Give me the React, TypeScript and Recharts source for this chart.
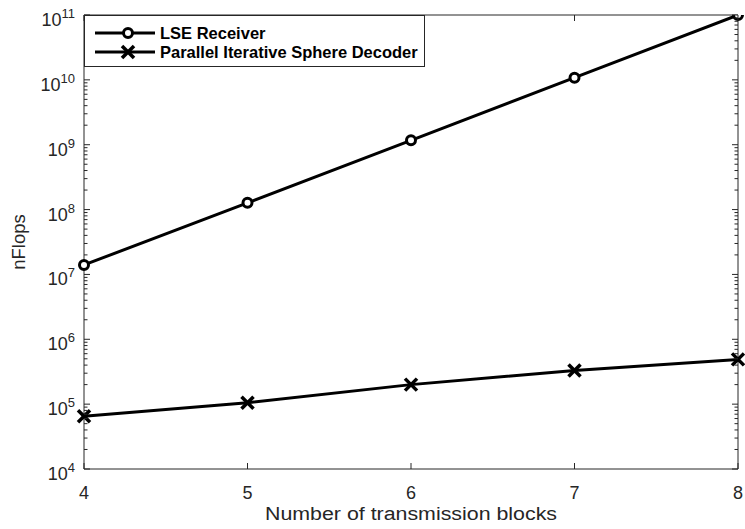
import React from 'react';
import { LineChart, Line, XAxis, YAxis } from 'recharts';

const blocks = [4, 5, 6, 7, 8];
const lseFlops = [1.4e7, 1.27e8, 1.17e9, 1.08e10, 1.0e11];
const pisdFlops = [6.5e4, 1.05e5, 2.0e5, 3.3e5, 4.9e5];
const xTicks = [4, 5, 6, 7, 8];
const yMajorExponents = [4, 5, 6, 7, 8, 9, 10, 11];
const seriesNames = ['LSE Receiver', 'Parallel Iterative Sphere Decoder'];
const xLabel = 'Number of transmission blocks';
const yLabel = 'nFlops';

const data = blocks.map((b, i) => ({ blocks: b, lse: lseFlops[i], pisd: pisdFlops[i] }));
const yMajor = yMajorExponents.map((e) => Math.pow(10, e));
const yMinor: number[] = [];
for (let i = 0; i < yMajorExponents.length - 1; i++) {
  for (let m = 2; m <= 9; m++) yMinor.push(m * Math.pow(10, yMajorExponents[i]));
}
const yTicks = [...yMajor, ...yMinor].sort((a, b) => a - b);

const AX = '#262626';
const FONT = "'Liberation Sans', Arial, Helvetica, sans-serif";

const isMajor = (v: number) => {
  const e = Math.round(Math.log10(v));
  return Math.abs(v - Math.pow(10, e)) < 1e-6 * v;
};

const LeftTick = (props: any) => {
  const { x, y, payload } = props;
  const v = payload.value;
  const maj = isMajor(v);
  const e = Math.round(Math.log10(v));
  return (
    <g>
      <line x1={x} x2={x + (maj ? 6 : 3.5)} y1={y} y2={y} stroke={AX} strokeWidth={1} />
      {maj && (
        <text x={x - 9} y={y + 11} textAnchor="end" fill={AX} fontFamily={FONT} fontSize={18}>
          10<tspan dy={-8} fontSize={13}>{e}</tspan>
        </text>
      )}
    </g>
  );
};

const RightTick = (props: any) => {
  const { x, y, payload } = props;
  const maj = isMajor(payload.value);
  return <line x1={x} x2={x - (maj ? 6 : 3.5)} y1={y} y2={y} stroke={AX} strokeWidth={1} />;
};

const BottomTick = (props: any) => {
  const { x, y, payload } = props;
  return (
    <g>
      <line x1={x} x2={x} y1={y} y2={y - 6} stroke={AX} strokeWidth={1} />
      <text x={x} y={y + 30} textAnchor="middle" fill={AX} fontFamily={FONT} fontSize={18}>
        {payload.value}
      </text>
    </g>
  );
};

const TopTick = (props: any) => {
  const { x, y } = props;
  return <line x1={x} x2={x} y1={y} y2={y + 6} stroke={AX} strokeWidth={1} />;
};

const CrossDot = (props: any) => {
  const { cx, cy } = props;
  if (cx == null || cy == null) return null;
  const s = 6;
  return (
    <g>
      <line x1={cx - s} y1={cy - s} x2={cx + s} y2={cy + s} stroke="#000" strokeWidth={3.5} />
      <line x1={cx - s} y1={cy + s} x2={cx + s} y2={cy - s} stroke="#000" strokeWidth={3.5} />
    </g>
  );
};

const Legend = () => (
  <svg width={342} height={53} style={{ position: 'absolute', left: 84, top: 15 }}>
    <rect x={0.5} y={0.5} width={340} height={51} fill="#fff" stroke={AX} strokeWidth={1} />
    <line x1={11} x2={71} y1={18} y2={18} stroke="#000" strokeWidth={3} />
    <circle cx={44} cy={18} r={4.5} fill="#fff" stroke="#000" strokeWidth={3} />
    <text x={76} y={23.5} fontFamily={FONT} fontWeight="bold" fontSize={16.5} fill="#000">
      {seriesNames[0]}
    </text>
    <line x1={11} x2={71} y1={37} y2={37} stroke="#000" strokeWidth={3} />
    <CrossDot cx={44} cy={37} />
    <text x={76} y={42.5} fontFamily={FONT} fontWeight="bold" fontSize={16.5} fill="#000">
      {seriesNames[1]}
    </text>
  </svg>
);

export default function App() {
  return (
    <div style={{ position: 'absolute', left: 0, top: 0, width: 745, height: 529, background: '#fff' }}>
      <LineChart width={745} height={529} data={data} margin={{ top: 10, right: 0, bottom: 20, left: 24 }}>
        <XAxis
          xAxisId="bottom"
          dataKey="blocks"
          type="number"
          domain={[4, 8]}
          ticks={xTicks}
          interval={0}
          height={40}
          tickSize={0}
          tickMargin={0}
          tickLine={false}
          axisLine={{ stroke: AX, strokeWidth: 1 }}
          tick={<BottomTick />}
          label={{
            content: (p: any) => {
              const vb = p.viewBox;
              return (
                <text
                  x={vb.x + vb.width / 2}
                  y={vb.y + 51}
                  textAnchor="middle"
                  fill={AX}
                  fontFamily={FONT}
                  fontSize={18}
                  textLength={292}
                  lengthAdjust="spacingAndGlyphs"
                >
                  {xLabel}
                </text>
              );
            },
          }}
        />
        <XAxis
          xAxisId="top"
          orientation="top"
          dataKey="blocks"
          type="number"
          domain={[4, 8]}
          ticks={xTicks}
          interval={0}
          height={5}
          tickSize={0}
          tickMargin={0}
          tickLine={false}
          axisLine={{ stroke: AX, strokeWidth: 1 }}
          tick={<TopTick />}
        />
        <YAxis
          yAxisId="left"
          scale="log"
          type="number"
          domain={[1e4, 1e11]}
          allowDataOverflow
          ticks={yTicks}
          interval={0}
          width={60}
          tickSize={0}
          tickMargin={0}
          tickLine={false}
          axisLine={{ stroke: AX, strokeWidth: 1 }}
          tick={<LeftTick />}
          label={{
            content: (p: any) => {
              const vb = p.viewBox;
              const cy = vb.y + vb.height / 2;
              return (
                <text x={25} y={cy} transform={`rotate(-90 25 ${cy})`} textAnchor="middle" fill={AX} fontFamily={FONT} fontSize={18.5}>
                  {yLabel}
                </text>
              );
            },
          }}
        />
        <YAxis
          yAxisId="right"
          orientation="right"
          scale="log"
          type="number"
          domain={[1e4, 1e11]}
          allowDataOverflow
          ticks={yTicks}
          interval={0}
          width={7}
          tickSize={0}
          tickMargin={0}
          tickLine={false}
          axisLine={{ stroke: AX, strokeWidth: 1 }}
          tick={<RightTick />}
        />
        <Line
          xAxisId="bottom"
          yAxisId="left"
          dataKey="lse"
          name={seriesNames[0]}
          stroke="#000"
          strokeWidth={3}
          isAnimationActive={false}
          dot={{ r: 4.5, fill: '#fff', stroke: '#000', strokeWidth: 3 }}
        />
        <Line
          xAxisId="bottom"
          yAxisId="left"
          dataKey="pisd"
          name={seriesNames[1]}
          stroke="#000"
          strokeWidth={3}
          isAnimationActive={false}
          dot={<CrossDot />}
        />
      </LineChart>
      <Legend />
    </div>
  );
}
